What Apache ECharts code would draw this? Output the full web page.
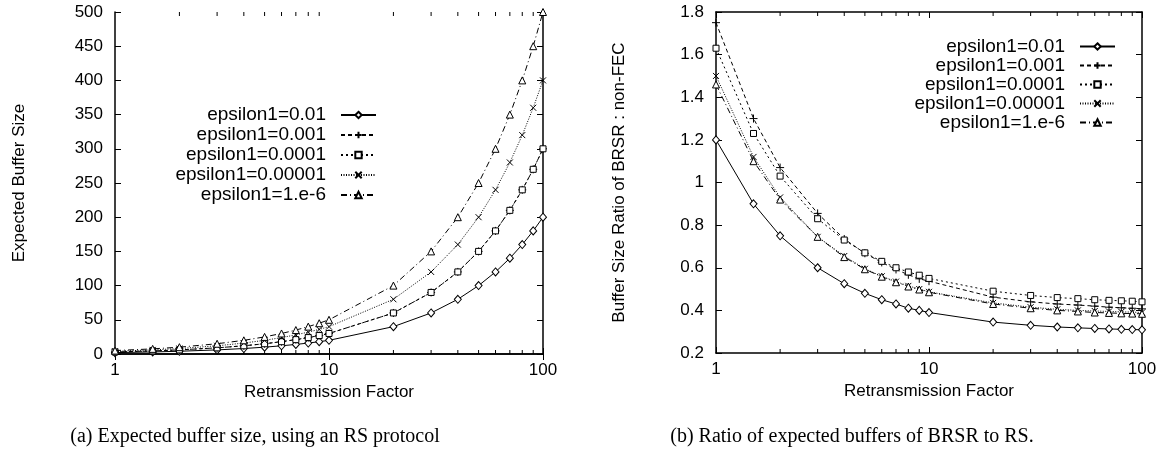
<!DOCTYPE html>
<html>
<head>
<meta charset="utf-8">
<script src="https://cdn.jsdelivr.net/npm/echarts@6/dist/echarts.min.js"></script>
<style>
html,body{margin:0;padding:0;background:#fff;}
#c{width:1165px;height:461px;}
</style>
</head>
<body>
<div id="c"></div>
<script>
// ---- data ----
const retransFactors = [1, 1.5, 2, 3, 4, 5, 6, 7, 8, 9, 10, 20, 30, 40, 50, 60, 70, 80, 90, 100];
const seriesNames = ['epsilon1=0.01', 'epsilon1=0.001', 'epsilon1=0.0001', 'epsilon1=0.00001', 'epsilon1=1.e-6'];

// (a) expected buffer size
const bufEps1 = [2, 3, 4, 6, 8, 10, 12, 14, 16, 18, 20, 40, 60, 80, 100, 120, 140, 160, 180, 200];
const bufEps2 = [3, 4.5, 6, 9, 12, 15, 18, 21, 24, 27, 30, 60, 90, 120, 150, 180, 210, 240, 270, 300];
const bufEps3 = [3, 4.5, 6, 9, 12, 15, 18, 21, 24, 27, 30, 60, 90, 120, 150, 180, 210, 240, 270, 300];
const bufEps4 = [4, 6, 8, 12, 16, 20, 24, 28, 32, 36, 40, 80, 120, 160, 200, 240, 280, 320, 360, 400];
const bufEps5 = [5, 7.5, 10, 15, 20, 25, 30, 35, 40, 45, 50, 100, 150, 200, 250, 300, 350, 400, 450, 500];

// (b) ratio BRSR : non-FEC
const ratioEps1 = [1.2, 0.9, 0.75, 0.6, 0.525, 0.48, 0.45, 0.43, 0.41, 0.40, 0.39, 0.345, 0.33, 0.322, 0.318, 0.315, 0.313, 0.311, 0.31, 0.309];
const ratioEps2 = [1.75, 1.30, 1.07, 0.855, 0.735, 0.668, 0.625, 0.592, 0.567, 0.548, 0.537, 0.462, 0.44, 0.43, 0.425, 0.42, 0.415, 0.412, 0.41, 0.407];
const ratioEps3 = [1.63, 1.23, 1.03, 0.83, 0.73, 0.67, 0.63, 0.60, 0.58, 0.565, 0.55, 0.49, 0.47, 0.46, 0.455, 0.45, 0.447, 0.445, 0.443, 0.44];
const ratioEps4 = [1.5, 1.12, 0.93, 0.745, 0.655, 0.595, 0.56, 0.535, 0.515, 0.50, 0.487, 0.435, 0.415, 0.405, 0.40, 0.397, 0.395, 0.393, 0.392, 0.39];
const ratioEps5 = [1.46, 1.10, 0.92, 0.745, 0.65, 0.593, 0.558, 0.532, 0.512, 0.498, 0.485, 0.43, 0.41, 0.40, 0.395, 0.39, 0.388, 0.386, 0.385, 0.384];

const minorTicks = [2, 3, 4, 5, 6, 7, 8, 9, 20, 30, 40, 50, 60, 70, 80, 90];
const captionA = '(a) Expected buffer size, using an RS protocol';
const captionB = '(b) Ratio of expected buffers of BRSR to RS.';

// ---- styles ----
const FONT = '"Liberation Sans", Arial, Helvetica, sans-serif';
const SERIF = '"Liberation Serif", "Times New Roman", serif';
const seriesStyles = [
  { symbol: 'diamond', size: [7, 8], dash: 'solid' },
  { symbol: 'path://M5,0L5,10M0,5L10,5', size: 8, dash: [4, 3] },
  { symbol: 'rect', size: 6, dash: [2, 3] },
  { symbol: 'path://M0,0L10,10M10,0L0,10', size: 6, dash: [1, 1.5] },
  { symbol: 'triangle', size: 7, dash: [6, 3, 1, 3] }
];

const chart = echarts.init(document.getElementById('c'), null, { renderer: 'canvas' });

function xAxes(grid) {
  const base = {
    type: 'log', logBase: 10, min: 1, max: 100, gridIndex: grid,
    axisLine: { show: true, lineStyle: { color: '#000', width: 1.5 } },
    axisTick: { show: true, inside: true, length: 6, lineStyle: { color: '#000', width: 1 } },
    splitLine: { show: false }, minorTick: { show: false }
  };
  return [
    Object.assign({}, base, {
      position: 'bottom',
      axisLabel: { color: '#000', fontFamily: FONT, fontSize: 17, margin: 8 },
      name: 'Retransmission Factor', nameLocation: 'middle', nameGap: 24,
      nameTextStyle: { color: '#000', fontFamily: FONT, fontSize: 17 }
    }),
    Object.assign({}, base, { position: 'top', axisLabel: { show: false } })
  ];
}
function yAxes(grid, min, max, interval, name, gap, fmt) {
  const base = {
    type: 'value', min: min, max: max, interval: interval, gridIndex: grid,
    axisLine: { show: true, lineStyle: { color: '#000', width: 1.5 } },
    axisTick: { show: true, inside: true, length: 6, lineStyle: { color: '#000', width: 1 } },
    splitLine: { show: false }
  };
  return [
    Object.assign({}, base, {
      position: 'left',
      axisLabel: { color: '#000', fontFamily: FONT, fontSize: 17, margin: 12, formatter: fmt },
      name: name, nameLocation: 'middle', nameGap: gap, nameRotate: 90,
      nameTextStyle: { color: '#000', fontFamily: FONT, fontSize: 17 }
    }),
    Object.assign({}, base, { position: 'right', axisLabel: { show: false } })
  ];
}

function lineSeries(name, idx, vals, xi, yi) {
  const st = seriesStyles[idx];
  return {
    type: 'line', name: name, xAxisIndex: xi, yAxisIndex: yi,
    data: retransFactors.map((x, i) => [x, vals[i]]),
    symbol: st.symbol, symbolSize: st.size, showSymbol: true, showAllSymbol: true,
    lineStyle: { color: '#000', width: 1, type: st.dash },
    itemStyle: { color: '#fff', borderColor: '#000', borderWidth: 1 },
    emphasis: { disabled: true }, animation: false, z: 3 + idx, clip: false
  };
}

function minorTickSeries(xi, yi, yval) {
  return {
    type: 'custom', xAxisIndex: xi, yAxisIndex: yi, silent: true, animation: false, clip: false,
    data: minorTicks.map(v => [v, yval]),
    renderItem: function (params, api) {
      const x = api.coord([api.value(0), api.value(1)])[0];
      const cs = params.coordSys;
      return { type: 'group', children: [
        { type: 'line', shape: { x1: x, y1: cs.y + cs.height, x2: x, y2: cs.y + cs.height - 4 }, style: { stroke: '#000', lineWidth: 1 } },
        { type: 'line', shape: { x1: x, y1: cs.y, x2: x, y2: cs.y + 4 }, style: { stroke: '#000', lineWidth: 1 } }
      ] };
    }
  };
}

const legendBase = {
  orient: 'vertical', align: 'right', data: seriesNames, padding: 0,
  itemWidth: 35, itemHeight: 8, selectedMode: false,
  textStyle: { color: '#000', fontFamily: FONT, fontSize: 19, padding: [0, 10, 0, 0] }
};

const bufs = [bufEps1, bufEps2, bufEps3, bufEps4, bufEps5];
const ratios = [ratioEps1, ratioEps2, ratioEps3, ratioEps4, ratioEps5];

const option = {
  backgroundColor: '#fff',
  animation: false,
  grid: [
    { left: 115, top: 12, width: 428, height: 342, containLabel: false },
    { left: 716, top: 12, width: 426, height: 341, containLabel: false }
  ],
  xAxis: [].concat(xAxes(0), xAxes(1)),
  yAxis: [].concat(
    yAxes(0, 0, 500, 50, 'Expected Buffer Size', 87, v => String(v)),
    yAxes(1, 0.2, 1.8, 0.2, 'Buffer Size Ratio of BRSR : non-FEC', 88, v => String(+v.toFixed(1)))
  ),
  legend: [
    Object.assign({}, legendBase, { right: 1165 - 377, top: 105, itemGap: 0,
      textStyle: Object.assign({}, legendBase.textStyle, { lineHeight: 20 }) }),
    Object.assign({}, legendBase, { right: 1165 - 1116, top: 37, itemGap: 0,
      textStyle: Object.assign({}, legendBase.textStyle, { lineHeight: 17.5 }) })
  ],
  series: [].concat(
    seriesNames.map((n, i) => lineSeries(n, i, bufs[i], 0, 0)),
    seriesNames.map((n, i) => lineSeries(n, i, ratios[i], 2, 2)),
    [minorTickSeries(0, 0, 0), minorTickSeries(2, 2, 0.2)]
  ),
  graphic: [
    { type: 'text', style: { text: captionA, font: '20px ' + SERIF, fill: '#000', textAlign: 'center', textVerticalAlign: 'middle', x: 255, y: 437 } },
    { type: 'text', style: { text: captionB, font: '20px ' + SERIF, fill: '#000', textAlign: 'center', textVerticalAlign: 'middle', x: 852, y: 437 } }
  ]
};
chart.setOption(option);
</script>
</body>
</html>
